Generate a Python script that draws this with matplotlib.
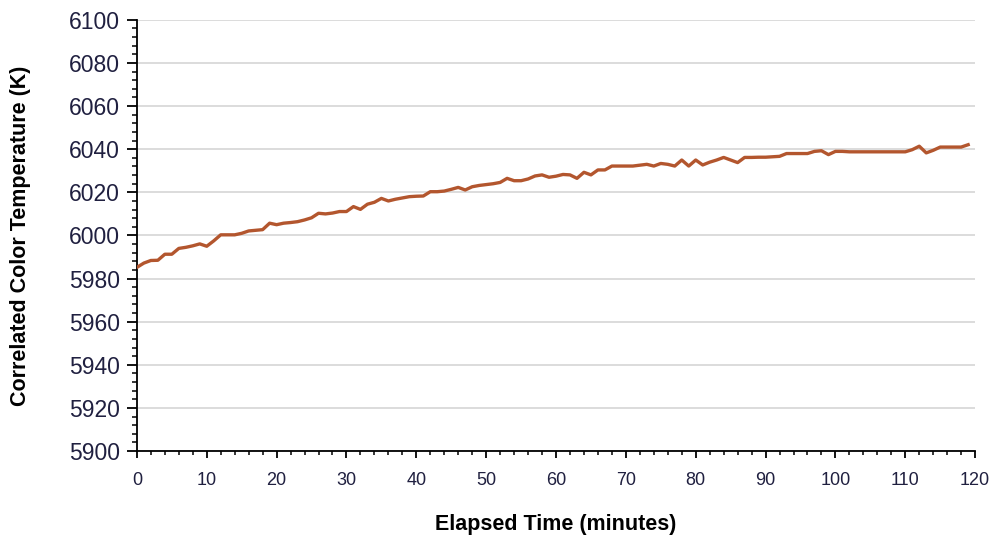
from matplotlib import pyplot as plt
from matplotlib.ticker import MultipleLocator
import numpy as np

# valores (um ponto por minuto)
minutos = np.arange(0, 120)
cct = [
    5985.2, 5987.2, 5988.4, 5988.5, 5991.3, 5991.3, 5994.0, 5994.5, 5995.2, 5996.1,
    5995.0, 5997.5, 6000.3, 6000.3, 6000.3, 6001.0, 6002.1, 6002.4, 6002.7, 6005.7,
    6005.0, 6005.7, 6006.0, 6006.4, 6007.2, 6008.2, 6010.3, 6010.0, 6010.4, 6011.1,
    6011.1, 6013.4, 6012.1, 6014.5, 6015.4, 6017.2, 6016.0, 6016.8, 6017.4, 6018.0,
    6018.2, 6018.3, 6020.3, 6020.3, 6020.6, 6021.4, 6022.3, 6021.1, 6022.6, 6023.2,
    6023.6, 6024.0, 6024.6, 6026.5, 6025.4, 6025.4, 6026.2, 6027.6, 6028.1, 6027.0,
    6027.5, 6028.3, 6028.1, 6026.5, 6029.3, 6028.1, 6030.4, 6030.4, 6032.2, 6032.2,
    6032.2, 6032.2, 6032.6, 6033.0, 6032.2, 6033.4, 6033.0, 6032.2, 6035.0, 6032.2,
    6035.0, 6032.7, 6034.0, 6035.0, 6036.2, 6035.0, 6033.8, 6036.2, 6036.2, 6036.3,
    6036.3, 6036.5, 6036.7, 6038.0, 6038.0, 6038.0, 6038.0, 6039.0, 6039.3, 6037.5,
    6039.0, 6039.0, 6038.8, 6038.8, 6038.8, 6038.8, 6038.8, 6038.8, 6038.8, 6038.8,
    6038.8, 6039.8, 6041.4, 6038.3, 6039.5, 6041.0, 6041.0, 6041.0, 6041.0, 6042.1,
]

cor_texto = '#202040'

fig = plt.figure(figsize=(9.92, 5.37), dpi=100)
ax = fig.add_axes([0.138, 0.160, 0.845, 0.803])

ax.plot(minutos, cct, color='#b3562e', linewidth=2.4, zorder=3)

ax.set_xlim(0, 120)
ax.set_ylim(5900, 6100)
ax.xaxis.set_major_locator(MultipleLocator(10))
ax.xaxis.set_minor_locator(MultipleLocator(2))
ax.yaxis.set_major_locator(MultipleLocator(20))
ax.yaxis.set_minor_locator(MultipleLocator(4))

ax.grid(axis='y', which='major', color='#d9d9d9', linewidth=1.3, zorder=0)
ax.set_axisbelow(True)

for lado in ('top', 'right'):
    ax.spines[lado].set_visible(False)
ax.spines['left'].set_linewidth(1.3)
ax.spines['bottom'].set_linewidth(1.3)

ax.tick_params(axis='y', which='major', length=7, width=1.3, pad=5,
               labelsize=16.5, labelcolor=cor_texto)
ax.tick_params(axis='y', which='minor', length=3.5, width=1.1)
ax.tick_params(axis='x', which='major', length=5, width=1.3, pad=10,
               labelsize=13, labelcolor=cor_texto)
ax.tick_params(axis='x', which='minor', length=3, width=1.1)
for rot in ax.get_xticklabels() + ax.get_yticklabels():
    rot.set_family('Liberation Sans')

ax.set_xlabel('Elapsed Time (minutes)', fontsize=15.5, fontweight='bold',
              family='Liberation Sans')
ax.set_ylabel('Correlated Color Temperature (K)', fontsize=15.5, fontweight='bold',
              family='Liberation Sans')
ax.xaxis.set_label_coords(0.5, -0.146)
ax.yaxis.set_label_coords(-0.126, 0.5)

fig.savefig('out.png', dpi=100)
